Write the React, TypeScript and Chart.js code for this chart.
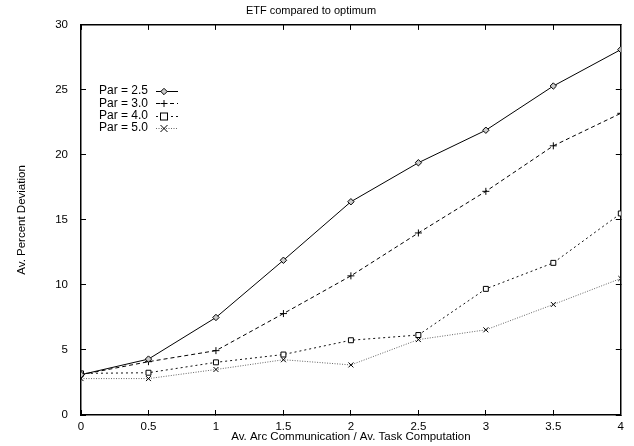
import React, { useEffect, useRef } from "react";
import { Chart, registerables } from "chart.js";

Chart.register(...registerables);

const xValues = [0, 0.5, 1, 1.5, 2, 2.5, 3, 3.5, 4];
const par25 = [3.1, 4.3, 7.5, 11.9, 16.4, 19.4, 21.9, 25.3, 28.1];
const par30 = [3.1, 4.1, 4.95, 7.8, 10.7, 14.0, 17.2, 20.7, 23.2];
const par40 = [3.2, 3.25, 4.05, 4.65, 5.75, 6.15, 9.7, 11.7, 15.5];
const par50 = [2.8, 2.8, 3.5, 4.25, 3.85, 5.8, 6.55, 8.5, 10.5];
const seriesLabels = ["Par = 2.5", "Par = 3.0", "Par = 4.0", "Par = 5.0"];
const xTicks = [0, 0.5, 1, 1.5, 2, 2.5, 3, 3.5, 4];
const yTicks = [0, 5, 10, 15, 20, 25, 30];

const FONT = "'Liberation Sans', Arial, Helvetica, sans-serif";

const styles = [
  { color: "#000", dash: [] as number[], point: "rectRot", radius: 3.2 },
  { color: "#000", dash: [4, 3], point: "cross", radius: 3.5 },
  { color: "#111", dash: [2, 3], point: "rect", radius: 3.5 },
  { color: "#666", dash: [1, 1.5], point: "crossRot", radius: 3.5 },
];

function drawMarker(ctx: CanvasRenderingContext2D, kind: string, cx: number, y: number, r: number) {
  ctx.strokeStyle = "#000";
  ctx.lineWidth = 1;
  ctx.beginPath();
  if (kind === "rectRot") {
    ctx.moveTo(cx, y - r);
    ctx.lineTo(cx + r, y);
    ctx.lineTo(cx, y + r);
    ctx.lineTo(cx - r, y);
    ctx.closePath();
    ctx.fillStyle = "#ccc";
    ctx.fill();
    ctx.stroke();
  } else if (kind === "cross") {
    ctx.moveTo(cx - r, y);
    ctx.lineTo(cx + r, y);
    ctx.moveTo(cx, y - r);
    ctx.lineTo(cx, y + r);
    ctx.stroke();
  } else if (kind === "rect") {
    ctx.fillStyle = "#fff";
    ctx.fillRect(cx - r, y - r, 2 * r, 2 * r);
    ctx.strokeRect(cx - r, y - r, 2 * r, 2 * r);
  } else {
    ctx.moveTo(cx - r, y - r);
    ctx.lineTo(cx + r, y + r);
    ctx.moveTo(cx + r, y - r);
    ctx.lineTo(cx - r, y + r);
    ctx.stroke();
  }
}

const legendPlugin = {
  id: "insideLegend",
  afterDraw(chart: any) {
    const ctx: CanvasRenderingContext2D = chart.ctx;
    const area = chart.chartArea;
    const left = Math.round(area.left);
    const top = Math.round(area.top);
    const textRight = left + 67;
    const lineStart = left + 75;
    const lineEnd = left + 97;
    const y0 = top + 66;
    const step = 12.3;
    ctx.save();
    ctx.font = `12px ${FONT}`;
    ctx.textAlign = "right";
    ctx.textBaseline = "middle";
    chart.data.datasets.forEach((ds: any, i: number) => {
      const y = y0 + i * step;
      ctx.fillStyle = "#000";
      ctx.fillText(ds.label, textRight, y);
      const st = styles[i];
      ctx.strokeStyle = st.color;
      ctx.lineWidth = 1;
      ctx.setLineDash(st.dash);
      ctx.beginPath();
      ctx.moveTo(lineStart, Math.round(y) + 0.5);
      ctx.lineTo(lineEnd, Math.round(y) + 0.5);
      ctx.stroke();
      ctx.setLineDash([]);
      drawMarker(ctx, st.point, lineStart + 8, Math.round(y) + 0.5, st.radius);
    });
    ctx.restore();
  },
};

const tickFont = { family: FONT, size: 11.5 };
const innerGrid = {
  display: true,
  drawOnChartArea: false,
  drawTicks: true,
  tickLength: -5,
  color: "#000",
  lineWidth: 1,
};
const frameBorder = { display: true, color: "#000", width: 1.5 };

export default function App() {
  const ref = useRef<HTMLCanvasElement>(null);
  useEffect(() => {
    if (!ref.current) return;
    const series = [par25, par30, par40, par50];
    const chart = new Chart(ref.current, {
      type: "line",
      data: {
        datasets: series.map((vals, i) => ({
          label: seriesLabels[i],
          data: vals.map((v, j) => ({ x: xValues[j], y: v })),
          xAxisID: "x",
          yAxisID: "y",
          borderColor: styles[i].color,
          borderWidth: 1,
          borderDash: styles[i].dash,
          pointStyle: styles[i].point as any,
          pointRadius: styles[i].radius,
          pointBorderColor: "#000",
          pointBorderWidth: 1,
          pointBackgroundColor: i === 0 ? "#ccc" : "#fff",
          fill: false,
          tension: 0,
        })),
      },
      options: {
        responsive: false,
        maintainAspectRatio: false,
        devicePixelRatio: 1,
        animation: false,
        layout: { padding: { right: 12, top: 0, left: 0, bottom: 0 } },
        plugins: {
          legend: { display: false },
          tooltip: { enabled: false },
          title: {
            display: true,
            text: "ETF compared to optimum",
            color: "#000",
            font: { family: FONT, size: 11, weight: "normal" },
            padding: { top: 0, bottom: 7 },
          },
        },
        scales: {
          x: {
            type: "linear",
            position: "bottom",
            min: 0,
            max: 4,
            afterBuildTicks: (s: any) => {
              s.ticks = xTicks.map((v) => ({ value: v }));
            },
            afterFit: (s: any) => {
              s.height = 31;
            },
            grid: innerGrid,
            border: frameBorder,
            ticks: {
              color: "#000",
              font: tickFont,
              padding: 10,
              maxRotation: 0,
              callback: (v: any) => String(v),
            },
            title: {
              display: true,
              text: "Av. Arc Communication / Av. Task Computation",
              color: "#000",
              font: tickFont,
              padding: { top: 0, bottom: 2 },
            },
          },
          x2: {
            type: "linear",
            position: "top",
            min: 0,
            max: 4,
            afterBuildTicks: (s: any) => {
              s.ticks = xTicks.map((v) => ({ value: v }));
            },
            afterFit: (s: any) => {
              s.height = 0;
            },
            grid: innerGrid,
            border: frameBorder,
            ticks: { display: false },
          },
          y: {
            type: "linear",
            position: "left",
            min: 0,
            max: 30,
            afterBuildTicks: (s: any) => {
              s.ticks = yTicks.map((v) => ({ value: v }));
            },
            afterFit: (s: any) => {
              s.width = 81;
            },
            grid: innerGrid,
            border: frameBorder,
            ticks: {
              color: "#000",
              font: tickFont,
              padding: 18,
            },
            title: {
              display: true,
              text: "Av. Percent Deviation",
              color: "#000",
              font: tickFont,
              padding: { top: 15, bottom: 0 },
            },
          },
          y2: {
            type: "linear",
            position: "right",
            min: 0,
            max: 30,
            afterBuildTicks: (s: any) => {
              s.ticks = yTicks.map((v) => ({ value: v }));
            },
            afterFit: (s: any) => {
              s.width = 0;
            },
            grid: innerGrid,
            border: frameBorder,
            ticks: { display: false },
          },
        },
      },
      plugins: [legendPlugin],
    });
    return () => chart.destroy();
  }, []);
  return (
    <div style={{ position: "fixed", left: 0, top: 0, width: 634, height: 446, background: "#fff" }}>
      <canvas ref={ref} width={634} height={446} style={{ display: "block", width: 634, height: 446 }} />
    </div>
  );
}
